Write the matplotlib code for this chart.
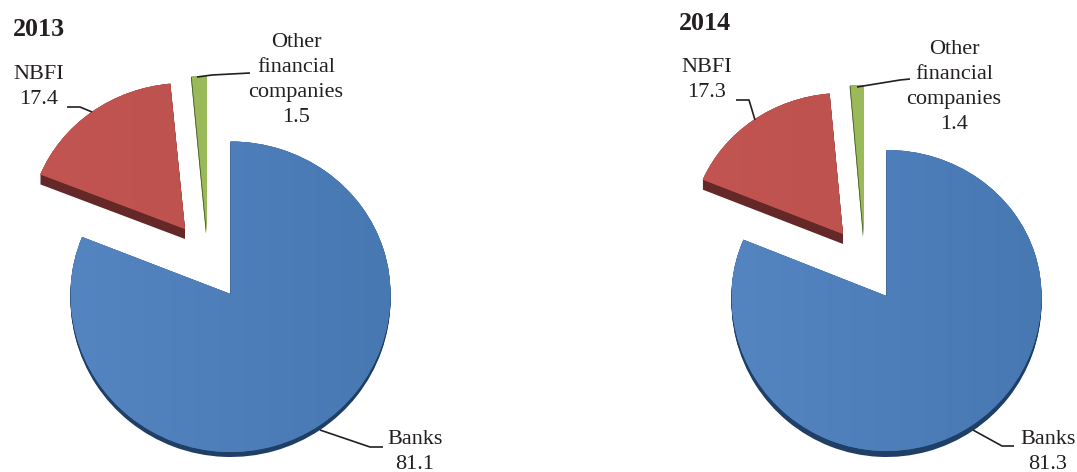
import numpy as np
import matplotlib
matplotlib.use("Agg")
import matplotlib.pyplot as plt
from matplotlib.colors import LinearSegmentedColormap
from matplotlib.patches import PathPatch
from matplotlib.path import Path
from matplotlib.transforms import Affine2D

plt.rcParams['font.family'] = ['Liberation Serif', 'DejaVu Serif']

H = 472
W = 1077
INK = '#231f20'

# data, share of each group in percent
categories = ['Banks', 'NBFI', 'Other\nfinancial\ncompanies']
shares_2013 = [81.1, 17.4, 1.5]
shares_2014 = [81.3, 17.3, 1.4]

# colours: gradient start, gradient end, side of the slice
face_from = ['#5585c1', '#c25551', '#9dbd5c']
face_to = ['#4878b2', '#ba4f4c', '#98b856']
side = ['#1f3f66', '#652828', '#4f6b2c']

# layout in picture pixels: apex x, apex y, rx, height above apex, height below apex, depth, side shift
geom_2013 = [(230.5, 294, 160, 152.5, 158, 5, 0), (185, 229, 156, 146, 146, 10, 0), (207, 233, 160, 157, 157, 1, -1)]
geom_2014 = [(886.5, 296, 155, 146, 155, 6, 0), (843, 234, 152, 141, 141, 10, 0), (864, 236, 152, 151, 151, 1, -1)]

fig = plt.figure(figsize=(W / 100, H / 100), dpi=100)
ax = fig.add_axes([0, 0, 1, 1])


def shaped(w, x, y, rx, up, down, color, z):
	# the pie is tilted, so the half below the apex is taller than the half above
	p = w.get_path()
	v = p.vertices.copy()
	v[:, 1] = np.where(v[:, 1] > 0, v[:, 1] * up, v[:, 1] * down)
	patch = PathPatch(Path(v, p.codes), fc=color, lw=0, zorder=z,
		transform=Affine2D().scale(rx, 1).translate(x, H - y) + ax.transData)
	ax.add_patch(patch)
	return patch


def draw_pie(shares, geom):
	wedges, _ = ax.pie(shares, startangle=90, counterclock=False)
	for i, (w, (x, y, rx, up, down, d, dx)) in enumerate(zip(wedges, geom)):
		for step in range(d + 1):
			shaped(w, x + dx, y + step, rx, up, down, side[i], 1)
		top = shaped(w, x, y, rx, up, down, face_to[i], 2)
		cmap = LinearSegmentedColormap.from_list('f', [face_from[i], face_to[i]])
		grad = np.linspace(0, 1, 256).reshape(1, -1)
		im = ax.imshow(grad, cmap=cmap, aspect='auto', zorder=3,
			extent=(x - rx, x + rx, H - y - down, H - y + up))
		im.set_clip_path(top)
		w.remove()


def leader(xs, ys):
	ax.plot(xs, [H - v for v in ys], color=INK, lw=1.2, zorder=5, solid_capstyle='butt')


def label(x, y, s):
	ax.text(x, H - y, s, ha='center', va='center', fontsize=16, color=INK, linespacing=1.45, zorder=6)


draw_pie(shares_2013, geom_2013)
draw_pie(shares_2014, geom_2014)

ax.set_aspect('auto')
ax.set_xlim(0, W)
ax.set_ylim(0, H)
ax.axis('off')

ax.text(39, H - 30, '2013', ha='center', va='center', fontsize=18.7, fontweight='bold', color=INK)
ax.text(705, H - 23, '2014', ha='center', va='center', fontsize=18.7, fontweight='bold', color=INK)

label(296, 80, '%s\n%g' % (categories[2], shares_2013[2]))
label(39, 87, '%s\n%g' % (categories[1], shares_2013[1]))
label(415, 452, '%s\n%g' % (categories[0], shares_2013[0]))

label(954, 87, '%s\n%g' % (categories[2], shares_2014[2]))
label(707, 80, '%s\n%g' % (categories[1], shares_2014[1]))
label(1048, 452, '%s\n%g' % (categories[0], shares_2014[0]))

leader([67, 80, 92], [107, 107, 112])
leader([250, 212, 197], [73, 75, 77])
leader([383, 370, 320], [447, 447, 430])
leader([736, 749, 755], [100, 100, 120])
leader([910, 900, 857], [79, 80, 87])
leader([1014, 1002, 973], [446, 446, 430])

fig.savefig('out.png', dpi=100)
